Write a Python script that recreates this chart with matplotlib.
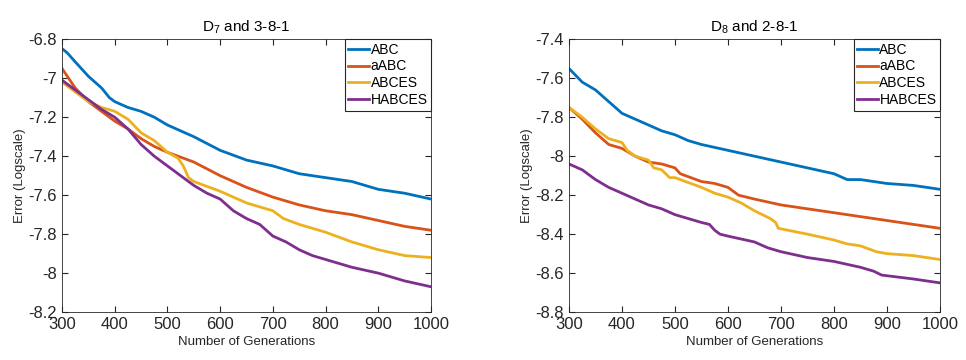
import matplotlib
matplotlib.use("Agg")
import matplotlib.pyplot as plt

plt.rcParams['font.family'] = ['Liberation Sans', 'DejaVu Sans']
plt.rcParams['mathtext.fontset'] = 'custom'
plt.rcParams['mathtext.rm'] = 'Liberation Sans'

# D7 and 3-8-1
d7_abc_x = [300, 310, 325, 350, 375, 390, 400, 425, 450, 475, 500, 550, 600, 650, 700, 750, 800, 850, 900, 950, 1000]
d7_abc_y = [-6.848, -6.87, -6.916, -6.99, -7.05, -7.10, -7.12, -7.15, -7.17, -7.20, -7.24, -7.30, -7.37, -7.42, -7.45, -7.49, -7.51, -7.53, -7.57, -7.59, -7.62]
d7_aabc_x = [300, 325, 350, 375, 400, 425, 450, 475, 500, 550, 600, 650, 700, 750, 800, 850, 900, 950, 1000]
d7_aabc_y = [-6.95, -7.05, -7.12, -7.17, -7.22, -7.26, -7.31, -7.35, -7.38, -7.43, -7.50, -7.56, -7.61, -7.65, -7.68, -7.70, -7.73, -7.76, -7.78]
d7_abces_x = [300, 325, 350, 375, 400, 425, 450, 475, 500, 520, 530, 540, 550, 600, 650, 700, 720, 750, 800, 850, 900, 950, 1000]
d7_abces_y = [-7.02, -7.07, -7.12, -7.15, -7.17, -7.21, -7.28, -7.32, -7.38, -7.41, -7.45, -7.51, -7.53, -7.58, -7.64, -7.68, -7.72, -7.75, -7.79, -7.84, -7.88, -7.91, -7.92]
d7_habces_x = [300, 325, 350, 375, 400, 425, 450, 475, 500, 525, 550, 575, 600, 625, 650, 675, 700, 725, 750, 775, 800, 850, 900, 950, 1000]
d7_habces_y = [-7.01, -7.06, -7.11, -7.16, -7.20, -7.26, -7.34, -7.40, -7.45, -7.50, -7.55, -7.59, -7.62, -7.68, -7.72, -7.75, -7.81, -7.84, -7.88, -7.91, -7.93, -7.97, -8.00, -8.04, -8.07]

# D8 and 2-8-1
d8_abc_x = [300, 325, 350, 375, 400, 425, 450, 475, 500, 525, 550, 600, 650, 700, 750, 800, 825, 850, 900, 950, 1000]
d8_abc_y = [-7.55, -7.62, -7.66, -7.72, -7.78, -7.81, -7.84, -7.87, -7.89, -7.92, -7.94, -7.97, -8.00, -8.03, -8.06, -8.09, -8.12, -8.12, -8.14, -8.15, -8.17]
d8_aabc_x = [300, 325, 350, 375, 400, 425, 450, 475, 500, 510, 550, 575, 600, 620, 650, 700, 750, 800, 850, 900, 950, 1000]
d8_aabc_y = [-7.75, -7.81, -7.88, -7.94, -7.96, -8.00, -8.03, -8.04, -8.06, -8.09, -8.13, -8.14, -8.16, -8.20, -8.22, -8.25, -8.27, -8.29, -8.31, -8.33, -8.35, -8.37]
d8_abces_x = [300, 325, 350, 375, 400, 410, 425, 450, 460, 475, 490, 500, 550, 575, 600, 625, 650, 680, 690, 695, 750, 800, 825, 850, 880, 900, 950, 1000]
d8_abces_y = [-7.75, -7.80, -7.86, -7.91, -7.93, -7.97, -8.00, -8.02, -8.06, -8.07, -8.11, -8.11, -8.16, -8.19, -8.21, -8.24, -8.28, -8.32, -8.34, -8.37, -8.40, -8.43, -8.45, -8.46, -8.49, -8.50, -8.51, -8.53]
d8_habces_x = [300, 325, 350, 375, 400, 425, 450, 475, 500, 525, 550, 565, 575, 585, 600, 650, 675, 700, 750, 800, 850, 875, 890, 950, 1000]
d8_habces_y = [-8.04, -8.07, -8.12, -8.16, -8.19, -8.22, -8.25, -8.27, -8.30, -8.32, -8.34, -8.35, -8.38, -8.40, -8.41, -8.44, -8.47, -8.49, -8.52, -8.54, -8.57, -8.59, -8.61, -8.63, -8.65]

labels = ['ABC', 'aABC', 'ABCES', 'HABCES']
colors = ['#0072BD', '#D95319', '#EDB120', '#7E2F8E']

fig = plt.figure(figsize=(9.66, 3.6), dpi=100)
ax1 = fig.add_axes([0.0642, 0.133, 0.382, 0.758])
ax2 = fig.add_axes([0.589, 0.133, 0.384, 0.758])

panels = [
    (ax1, [(d7_abc_x, d7_abc_y), (d7_aabc_x, d7_aabc_y), (d7_abces_x, d7_abces_y), (d7_habces_x, d7_habces_y)],
     r'D$_7$ and 3-8-1', (-8.2, -6.8), [-8.2, -8, -7.8, -7.6, -7.4, -7.2, -7, -6.8]),
    (ax2, [(d8_abc_x, d8_abc_y), (d8_aabc_x, d8_aabc_y), (d8_abces_x, d8_abces_y), (d8_habces_x, d8_habces_y)],
     r'D$_8$ and 2-8-1', (-8.8, -7.4), [-8.8, -8.6, -8.4, -8.2, -8, -7.8, -7.6, -7.4]),
]

for ax, series, title, ylim, yticks in panels:
    for (x, y), lab, c in zip(series, labels, colors):
        ax.plot(x, y, color=c, lw=2, label=lab)
    ax.set_xlim(300, 1000)
    ax.set_ylim(*ylim)
    ax.set_yticks(yticks)
    ax.set_yticklabels(['%g' % t for t in yticks])
    ax.set_xticks(range(300, 1001, 100))
    ax.tick_params(direction='in', top=True, right=True, labelsize=12, colors='#262626', length=4)
    for s in ax.spines.values():
        s.set_color('#262626')
        s.set_linewidth(0.6)
    ax.set_xlabel('Number of Generations', fontsize=9.5, color='#262626', labelpad=3)
    ax.set_ylabel('Error (Logscale)', fontsize=9.5, color='#262626', labelpad=2)
    ax.set_title(title, fontsize=11, color='black', pad=6)
    leg = ax.legend(loc='upper right', fontsize=10, fancybox=False, framealpha=1,
                    borderaxespad=0.0, handlelength=1.5, handletextpad=0.1,
                    labelspacing=0.2, borderpad=0.25, edgecolor='#262626')
    leg.get_frame().set_linewidth(0.8)

fig.savefig('out.png', dpi=100)
